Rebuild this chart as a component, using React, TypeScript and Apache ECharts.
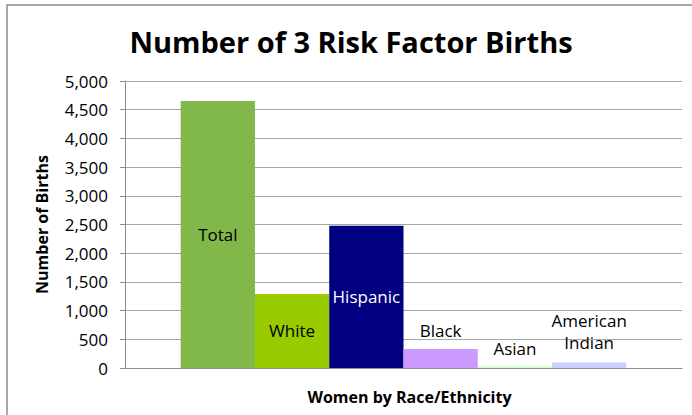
import React, { useEffect, useRef } from "react";
import * as echarts from "echarts";

const categories = ["Total", "White", "Hispanic", "Black", "Asian", "American Indian"];
const values = [4650, 1290, 2480, 330, 30, 95];
const colors = ["#82B749", "#99CC00", "#000080", "#CC99FF", "#CCFFCC", "#CCCCFF"];
const yTicks = { min: 0, max: 5000, interval: 500 };
const titleText = "Number of 3 Risk Factor Births";
const yName = "Number of Births";
const xName = "Women by Race/Ethnicity";

const FONT = "Open Sans";

export default function App() {
  const ref = useRef<HTMLDivElement>(null);
  useEffect(() => {
    document.body.style.margin = "0";
    const chart = echarts.init(ref.current!, null, { renderer: "svg" });
    const labelCfg: any[] = [
      { position: "inside", color: "#000" },
      { position: "inside", color: "#000" },
      { position: "inside", color: "#fff" },
      { position: "top", distance: 10, color: "#000" },
      { position: "top", distance: 9, color: "#000" },
      { position: "top", distance: 9, color: "#000", lineHeight: 22, formatter: "American\nIndian" },
    ];
    const series = categories.map((name, i) => ({
      name,
      type: "bar",
      data: [values[i]],
      barGap: "0%",
      barCategoryGap: "20%",
      itemStyle: { color: colors[i] },
      label: {
        show: true,
        formatter: name,
        fontFamily: FONT,
        fontSize: 17,
        ...labelCfg[i],
      },
    }));
    chart.setOption({
      animation: false,
      textStyle: { fontFamily: FONT },
      grid: { left: 125, right: 10, top: 81, bottom: 47, containLabel: false },
      graphic: [
        {
          type: "rect",
          shape: { x: 7, y: 5, width: 720, height: 440 },
          style: { fill: "none", stroke: "#8c8c8c", lineWidth: 1.5 },
          silent: true,
        },
        {
          type: "text",
          x: 351,
          y: 41,
          style: {
            text: titleText,
            fontFamily: FONT,
            fontWeight: "bold",
            fontSize: 29,
            fill: "#000",
            textAlign: "center",
            textVerticalAlign: "middle",
          },
        },
      ],
      xAxis: {
        type: "category",
        data: [""],
        name: xName,
        nameLocation: "middle",
        nameGap: 21,
        nameTextStyle: {
          fontFamily: FONT,
          fontWeight: "bold",
          fontSize: 16,
          color: "#000",
          padding: [0, 0, 0, 12],
        },
        axisLine: { lineStyle: { color: "#8c8c8c" } },
        axisTick: { show: false },
        axisLabel: { show: false },
      },
      yAxis: {
        type: "value",
        min: yTicks.min,
        max: yTicks.max,
        interval: yTicks.interval,
        name: yName,
        nameLocation: "middle",
        nameGap: 75,
        nameTextStyle: { fontFamily: FONT, fontWeight: "bold", fontSize: 16, color: "#000" },
        axisLine: { show: true, lineStyle: { color: "#8c8c8c" } },
        axisTick: { show: true, length: 5, lineStyle: { color: "#8c8c8c" } },
        axisLabel: {
          fontFamily: FONT,
          fontSize: 17,
          color: "#000",
          margin: 17,
          formatter: (v: number) => v.toLocaleString("en-US"),
        },
        splitLine: { lineStyle: { color: "#a6a6a6" } },
      },
      series,
    });
    return () => chart.dispose();
  }, []);
  return (
    <div
      ref={ref}
      style={{ position: "absolute", left: 0, top: 0, width: 692, height: 415, background: "#fff" }}
    />
  );
}
